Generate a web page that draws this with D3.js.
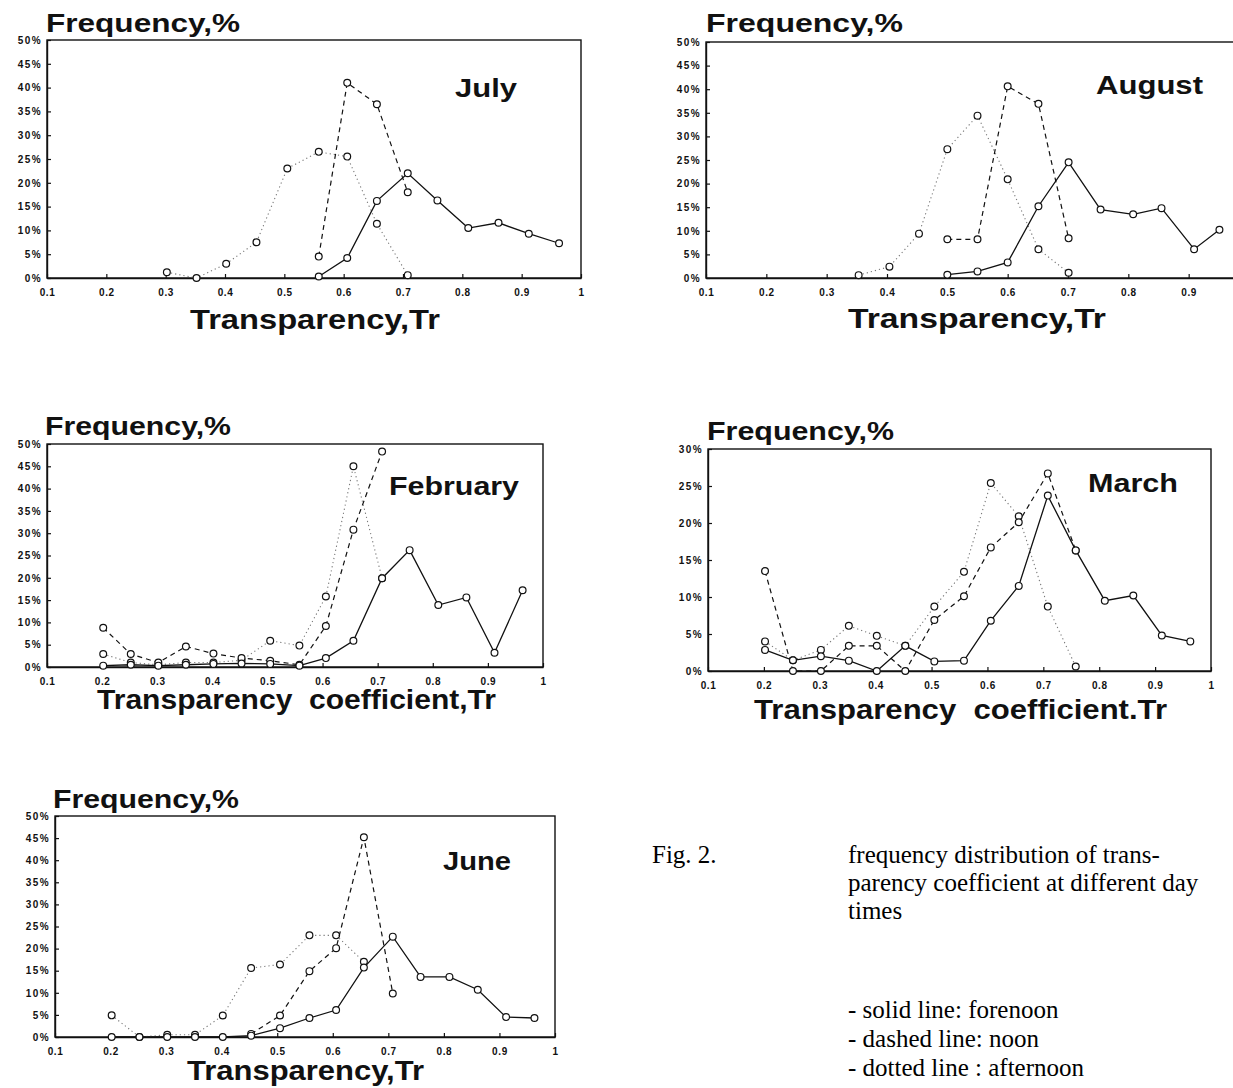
<!DOCTYPE html>
<html>
<head>
<meta charset="utf-8">
<script src="https://cdn.jsdelivr.net/npm/d3@7"></script>
<style>
  html, body { margin: 0; padding: 0; background: #fff; }
  svg { display: block; }
  .tick text { font-family: "Liberation Sans", Arial, sans-serif; font-weight: bold; }
</style>
</head>
<body>
<svg id="fig" width="1233" height="1088"></svg>
<script>
// ---------- DATA ----------
// transparency bins (category values)
const trBins = [0.20, 0.25, 0.30, 0.35, 0.40, 0.45, 0.50, 0.55, 0.60, 0.65, 0.70, 0.75, 0.80, 0.85, 0.90, 0.95];
// where the bins sit on the Tr axis (slight drift in most panels)
const trPosRead = [0.202, 0.252, 0.302, 0.352, 0.402, 0.453, 0.505, 0.558, 0.606, 0.656, 0.708, 0.758, 0.810, 0.861, 0.912, 0.963];
const trPosAug  = [0.20, 0.25, 0.30, 0.353, 0.404, 0.453, 0.50, 0.55, 0.60, 0.651, 0.701, 0.754, 0.808, 0.855, 0.909, 0.951];

const xTickValues = [0.1, 0.2, 0.3, 0.4, 0.5, 0.6, 0.7, 0.8, 0.9, 1.0];
const xTickLabels = ["0.1", "0.2", "0.3", "0.4", "0.5", "0.6", "0.7", "0.8", "0.9", "1"];
const yTicks50 = [0, 5, 10, 15, 20, 25, 30, 35, 40, 45, 50];
const yTicks30 = [0, 5, 10, 15, 20, 25, 30];

// frequency, % (null = no point)
const julyForenoon  = [null, null, null, null, null, null, null, 0.3, 4.2, 16.2, 22.0, 16.3, 10.5, 11.6, 9.3, 7.3];
const julyNoon      = [null, null, null, null, null, null, null, 4.5, 41.0, 36.5, 18.0, null, null, null, null, null];
const julyAfternoon = [null, null, 1.2, 0.0, 3.0, 7.5, 23.0, 26.5, 25.5, 11.4, 0.6, null, null, null, null, null];

const augForenoon   = [null, null, null, null, null, null, 0.7, 1.4, 3.3, 15.2, 24.5, 14.5, 13.5, 14.8, 6.1, 10.2];
const augNoon       = [null, null, null, null, null, null, 8.2, 8.2, 40.6, 36.9, 8.4, null, null, null, null, null];
const augAfternoon  = [null, null, null, 0.6, 2.4, 9.4, 27.3, 34.4, 20.9, 6.1, 1.1, null, null, null, null, null];

const febForenoon   = [0.3, 0.5, 0.3, 0.5, 0.7, 0.8, 0.7, 0.3, 2.0, 5.9, 19.9, 26.2, 13.9, 15.6, 3.2, 17.2];
const febNoon       = [8.8, 2.9, 1.0, 4.6, 3.0, 2.0, 1.4, 0.5, 9.2, 30.8, 48.3, null, null, null, null, null];
const febAfternoon  = [2.9, 1.0, 0.5, 1.0, 1.0, 1.5, 5.9, 4.8, 15.8, 45.0, 19.9, null, null, null, null, null];

const marForenoon   = [2.85, 1.45, 2.0, 1.4, 0.0, 3.4, 1.3, 1.4, 6.8, 11.5, 23.7, 16.3, 9.5, 10.2, 4.8, 4.0];
const marNoon       = [13.5, 0.0, 0.0, 3.4, 3.4, 0.0, 6.9, 10.1, 16.7, 20.1, 26.7, 16.3, null, null, null, null];
const marAfternoon  = [4.0, 1.45, 2.85, 6.1, 4.75, 3.4, 8.7, 13.4, 25.4, 20.9, 8.7, 0.6, null, null, null, null];

const junForenoon   = [0.0, 0.0, 0.0, 0.0, 0.0, 0.3, 2.0, 4.3, 6.1, 15.7, 22.7, 13.6, 13.6, 10.7, 4.5, 4.3];
const junNoon       = [null, null, null, null, null, 0.7, 4.85, 14.9, 20.1, 45.2, 9.85, null, null, null, null, null];
const junAfternoon  = [4.9, 0.0, 0.5, 0.5, 4.85, 15.6, 16.4, 23.0, 23.0, 17.0, null, null, null, null, null, null];

const yTitle = "Frequency,%";
const captionLabel = "Fig. 2.";
const captionLines = ["frequency distribution of trans-", "parency coefficient at different day", "times"];
const legendLines = ["- solid line: forenoon", "- dashed line: noon", "- dotted line : afternoon"];

// ---------- LAYOUT ----------
const W = 1233, H = 1088;
const panels = [
  { month: "July", pos: trPosRead, series: [julyForenoon, julyNoon, julyAfternoon], yMax: 50, yTicks: yTicks50,
    box: { l: 47, r: 581, t: 40, b: 278 }, freq: { x: 46, y: 32, w: 194 }, mon: { x: 455, y: 97, w: 62 },
    title: { text: "Transparency,Tr", x: 190, y: 329, w: 250 } },
  { month: "August", pos: trPosAug, series: [augForenoon, augNoon, augAfternoon], yMax: 50, yTicks: yTicks50,
    box: { l: 706, r: 1249, t: 42, b: 278 }, freq: { x: 706, y: 32, w: 197 }, mon: { x: 1096, y: 94, w: 107 },
    title: { text: "Transparency,Tr", x: 848, y: 328, w: 258 } },
  { month: "February", pos: trPosRead, series: [febForenoon, febNoon, febAfternoon], yMax: 50, yTicks: yTicks50,
    box: { l: 47, r: 543, t: 444, b: 667 }, freq: { x: 45, y: 435, w: 186 }, mon: { x: 389, y: 495, w: 130 },
    title: { text: "Transparency  coefficient,Tr", x: 97, y: 709, w: 399 } },
  { month: "March", pos: trPosRead, series: [marForenoon, marNoon, marAfternoon], yMax: 30, yTicks: yTicks30,
    box: { l: 708, r: 1211, t: 449, b: 671 }, freq: { x: 707, y: 440, w: 187 }, mon: { x: 1088, y: 492, w: 90 },
    title: { text: "Transparency  coefficient.Tr", x: 754, y: 719, w: 413 } },
  { month: "June", pos: trPosRead, series: [junForenoon, junNoon, junAfternoon], yMax: 50, yTicks: yTicks50,
    box: { l: 55, r: 555, t: 816, b: 1037 }, freq: { x: 53, y: 808, w: 186 }, mon: { x: 443, y: 870, w: 68 },
    title: { text: "Transparency,Tr", x: 187, y: 1080, w: 237 } }
];

const seriesStyle = [
  { stroke: "#111", width: 1.3, dash: null },      // forenoon
  { stroke: "#111", width: 1.2, dash: "5,4" },     // noon
  { stroke: "#777", width: 1.1, dash: "1.2,3" }    // afternoon
];

const svg = d3.select("#fig");
svg.append("rect").attr("width", W).attr("height", H).attr("fill", "#fff");

const sans = '"Liberation Sans", Arial, sans-serif';

panels.forEach(p => {
  const x = d3.scaleLinear().domain([0.1, 1.0]).range([p.box.l, p.box.r]);
  const y = d3.scaleLinear().domain([0, p.yMax]).range([p.box.b, p.box.t]);
  const g = svg.append("g");

  // frame
  g.append("rect")
    .attr("x", x(0.1)).attr("y", y(p.yMax))
    .attr("width", x(1.0) - x(0.1)).attr("height", y(0) - y(p.yMax))
    .attr("fill", "none").attr("stroke", "#111").attr("stroke-width", 1.4);

  // y axis
  const ya = g.append("g").attr("transform", `translate(${x(0.1)},0)`)
    .call(d3.axisLeft(y).tickValues(p.yTicks).tickFormat(d => d + "%").tickSizeInner(-4).tickSizeOuter(0).tickPadding(5));
  ya.select(".domain").attr("stroke", "#111").attr("stroke-width", 1.4);
  ya.selectAll(".tick line").attr("stroke", "#111").attr("stroke-width", 1.2);
  ya.selectAll(".tick text").attr("font-size", 10).attr("fill", "#111").style("letter-spacing", "1.4px");

  // x axis (labels only where they fit on the page)
  const visibleTicks = xTickValues.filter(v => x(v) <= W - 6);
  const xa = g.append("g").attr("transform", `translate(0,${y(0)})`)
    .call(d3.axisBottom(x).tickValues(visibleTicks).tickFormat(v => xTickLabels[xTickValues.indexOf(v)]).tickSizeInner(-4).tickSizeOuter(0).tickPadding(11));
  xa.select(".domain").attr("stroke", "#111").attr("stroke-width", 1.4);
  xa.selectAll(".tick line").attr("stroke", "#111").attr("stroke-width", 1.2);
  xa.selectAll(".tick text").attr("font-size", 10).attr("fill", "#111").style("letter-spacing", "0.6px");

  // series lines and markers (afternoon first so solid draws on top)
  [2, 1, 0].forEach(si => {
    const vals = p.series[si];
    const st = seriesStyle[si];
    const pts = vals.map((v, i) => ({ x: p.pos[i], v: v }));
    const line = d3.line().defined(d => d.v !== null).x(d => x(d.x)).y(d => y(d.v));
    g.append("path").datum(pts)
      .attr("d", line).attr("fill", "none")
      .attr("stroke", st.stroke).attr("stroke-width", st.width)
      .attr("stroke-dasharray", st.dash);
    g.selectAll(null).data(pts.filter(d => d.v !== null)).enter().append("circle")
      .attr("cx", d => x(d.x)).attr("cy", d => y(d.v)).attr("r", 3.4)
      .attr("fill", "#fff").attr("stroke", "#111").attr("stroke-width", 1.2);
  });

  // Frequency,% label
  g.append("text").attr("x", p.freq.x).attr("y", p.freq.y)
    .attr("font-family", sans).attr("font-weight", "bold").attr("font-size", 25)
    .attr("textLength", p.freq.w).attr("lengthAdjust", "spacingAndGlyphs")
    .attr("fill", "#111").text(yTitle);

  // month label
  g.append("text").attr("x", p.mon.x).attr("y", p.mon.y)
    .attr("font-family", sans).attr("font-weight", "bold").attr("font-size", 25)
    .attr("textLength", p.mon.w).attr("lengthAdjust", "spacingAndGlyphs")
    .attr("fill", "#111").text(p.month);

  // axis title
  g.append("text").attr("x", p.title.x).attr("y", p.title.y)
    .attr("font-family", sans).attr("font-weight", "bold").attr("font-size", 27)
    .attr("textLength", p.title.w).attr("lengthAdjust", "spacingAndGlyphs")
    .style("white-space", "pre")
    .attr("fill", "#111").text(p.title.text);
});

// caption
const serif = '"Liberation Serif", "Times New Roman", serif';
svg.append("text").attr("x", 652).attr("y", 863)
  .attr("font-family", serif).attr("font-size", 25).attr("fill", "#000").text(captionLabel);
svg.selectAll(null).data(captionLines).enter().append("text")
  .attr("x", 848).attr("y", (d, i) => 863 + i * 28)
  .attr("font-family", serif).attr("font-size", 25).attr("fill", "#000").text(d => d);
svg.selectAll(null).data(legendLines).enter().append("text")
  .attr("x", 848).attr("y", (d, i) => 1018 + i * 29)
  .attr("font-family", serif).attr("font-size", 25).attr("fill", "#000").text(d => d);
</script>
</body>
</html>
